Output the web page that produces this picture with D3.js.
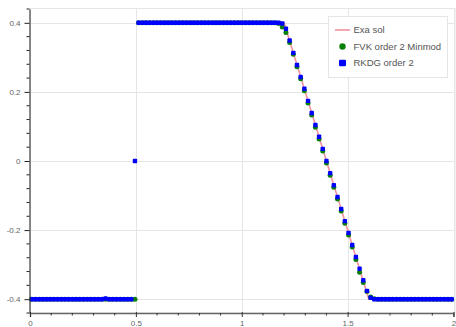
<!DOCTYPE html>
<html><head><meta charset="utf-8">
<script src="https://cdn.jsdelivr.net/npm/d3@7"></script>
<style>body{margin:0;background:#fff}svg{display:block}text{font-family:"Liberation Sans",Arial,Helvetica,sans-serif}</style>
</head><body>
<svg id="c" width="456" height="327"></svg>
<script>
// cell centres (x) shared by both numerical schemes
const cellX = [0.0087,0.0261,0.0435,0.0609,0.0783,0.0957,0.1130,0.1304,0.1478,0.1652,
0.1826,0.2000,0.2174,0.2348,0.2522,0.2696,0.2870,0.3043,0.3217,0.3391,
0.3565,0.3739,0.3913,0.4087,0.4261,0.4435,0.4609,0.4783,0.4957,0.5130,
0.5304,0.5478,0.5652,0.5826,0.6000,0.6174,0.6348,0.6522,0.6696,0.6870,
0.7043,0.7217,0.7391,0.7565,0.7739,0.7913,0.8087,0.8261,0.8435,0.8609,
0.8783,0.8957,0.9130,0.9304,0.9478,0.9652,0.9826,1.0000,1.0174,1.0348,
1.0522,1.0696,1.0870,1.1043,1.1217,1.1391,1.1565,1.1739,1.1913,1.2087,
1.2261,1.2435,1.2609,1.2783,1.2957,1.3130,1.3304,1.3478,1.3652,1.3826,
1.4000,1.4174,1.4348,1.4522,1.4696,1.4870,1.5043,1.5217,1.5391,1.5565,
1.5739,1.5913,1.6087,1.6261,1.6435,1.6609,1.6783,1.6957,1.7130,1.7304,
1.7478,1.7652,1.7826,1.8000,1.8174,1.8348,1.8522,1.8696,1.8870,1.9043,
1.9217,1.9391,1.9565,1.9739,1.9913];

const rkdgY = [-0.4,-0.4,-0.4,-0.4,-0.4,-0.4,-0.4,-0.4,-0.4,-0.4,
-0.4,-0.4,-0.4,-0.4,-0.4,-0.4,-0.4,-0.4,-0.4,-0.4,
-0.398,-0.4,-0.4,-0.4,-0.4,-0.4,-0.4,-0.4,0.0,0.4,
0.4,0.4,0.4,0.4,0.4,0.4,0.4,0.4,0.4,0.4,
0.4,0.4,0.4,0.4,0.4,0.4,0.4,0.4,0.4,0.4,
0.4,0.4,0.4,0.4,0.4,0.4,0.4,0.4,0.4,0.4,
0.4,0.4,0.4,0.4,0.4,0.4,0.4,0.4,0.398,0.383,
0.349,0.313,0.278,0.243,0.209,0.174,0.139,0.104,0.070,0.035,
0.000,-0.035,-0.070,-0.104,-0.139,-0.174,-0.208,-0.243,-0.278,-0.312,
-0.345,-0.376,-0.396,-0.400,-0.4,-0.4,-0.4,-0.4,-0.4,-0.4,
-0.4,-0.4,-0.4,-0.4,-0.4,-0.4,-0.4,-0.4,-0.4,-0.4,
-0.4,-0.4,-0.4,-0.4,-0.4];

const fvkY = [-0.4,-0.4,-0.4,-0.4,-0.4,-0.4,-0.4,-0.4,-0.4,-0.4,
-0.4,-0.4,-0.4,-0.4,-0.4,-0.4,-0.4,-0.4,-0.4,-0.4,
-0.4,-0.4,-0.4,-0.4,-0.4,-0.4,-0.4,-0.4,-0.4,0.4,
0.4,0.4,0.4,0.4,0.4,0.4,0.4,0.4,0.4,0.4,
0.4,0.4,0.4,0.4,0.4,0.4,0.4,0.4,0.4,0.4,
0.4,0.4,0.4,0.4,0.4,0.4,0.4,0.4,0.4,0.4,
0.4,0.4,0.4,0.4,0.4,0.4,0.4,0.398,0.388,0.372,
0.343,0.309,0.273,0.238,0.203,0.168,0.133,0.098,0.064,0.029,
-0.006,-0.041,-0.076,-0.110,-0.145,-0.180,-0.214,-0.249,-0.285,-0.322,
-0.352,-0.378,-0.394,-0.399,-0.4,-0.4,-0.4,-0.4,-0.4,-0.4,
-0.4,-0.4,-0.4,-0.4,-0.4,-0.4,-0.4,-0.4,-0.4,-0.4,
-0.4,-0.4,-0.4,-0.4,-0.4];

// exact solution breakpoints (NaN = gap at the jump)
const exactX = [0, 0.5, 0.5, 0.5, 1.2, 1.6, 2];
const exactY = [-0.4, -0.4, NaN, 0.4, 0.4, -0.4, -0.4];

const xTicks = [0, 0.5, 1, 1.5, 2];
const xTickLabels = ["0", "0.5", "1", "1.5", "2"];
const yTicks = [-0.4, -0.2, 0, 0.2, 0.4];
const yTickLabels = ["-0.4", "-0.2", "0", "0.2", "0.4"];
const legendNames = ["Exa sol", "FVK order 2 Minmod", "RKDG order 2"];

(function () {
const svg = d3.select("#c");
const x = d3.scaleLinear().domain([0, 2]).range([30, 453.5]);
const y = d3.scaleLinear().domain([-0.44, 0.44]).range([313, 9]);
const pL = 30, pR = 455, pT = 8.5, pB = 313;

// outline
svg.append("rect").attr("x", pL).attr("y", pT).attr("width", pR - pL).attr("height", pB - pT)
  .attr("fill", "none").attr("stroke", "#e5e5e5").attr("stroke-width", 1);

// grid
svg.append("g").selectAll("line").data(xTicks).join("line")
  .attr("x1", d => Math.round(x(d)) + 0.5).attr("x2", d => Math.round(x(d)) + 0.5)
  .attr("y1", pT).attr("y2", pB).attr("stroke", "#e5e5e5");
svg.append("g").selectAll("line").data(yTicks).join("line")
  .attr("y1", d => Math.round(y(d)) + 0.5).attr("y2", d => Math.round(y(d)) + 0.5)
  .attr("x1", pL).attr("x2", pR).attr("stroke", "#e5e5e5");

// exact line
const exact = exactX.map((v, i) => [v, exactY[i]]);
svg.append("path").datum(exact)
  .attr("d", d3.line().defined(d => !isNaN(d[1])).x(d => x(d[0])).y(d => y(d[1])))
  .attr("fill", "none").attr("stroke", "#f3929f").attr("stroke-width", 1.6);

// FVK circles
const fvk = cellX.map((v, i) => [v, fvkY[i]]);
svg.append("g").selectAll("circle").data(fvk).join("circle")
  .attr("cx", d => x(d[0])).attr("cy", d => y(d[1])).attr("r", 2.5)
  .attr("fill", "#0a800a");

// RKDG squares
const rk = cellX.map((v, i) => [v, rkdgY[i]]);
const s = 4.4;
svg.append("g").selectAll("rect").data(rk).join("rect")
  .attr("x", d => x(d[0]) - s / 2).attr("y", d => y(d[1]) - s / 2)
  .attr("width", s).attr("height", s).attr("rx", 0.9).attr("fill", "#0000ff");

// axes
const xAxis = d3.axisBottom(x).tickValues(xTicks).tickFormat((d, i) => xTickLabels[i]).tickSize(4).tickPadding(3);
const gx = svg.append("g").attr("transform", `translate(0,${pB})`).call(xAxis);
gx.select(".domain").attr("stroke", "#666").attr("stroke-width", 1.4);
gx.selectAll(".tick line").attr("stroke", "#333").attr("y1", -1);
gx.selectAll(".tick text").attr("font-size", 8).attr("fill", "#666").attr("font-family", "Liberation Sans, Arial, sans-serif");
const xMinor = d3.range(0, 21).map(i => i / 10).filter(v => !xTicks.includes(v));
svg.append("g").selectAll("line").data(xMinor).join("line")
  .attr("x1", d => x(d)).attr("x2", d => x(d)).attr("y1", pB).attr("y2", pB + 2.5)
  .attr("stroke", "#333");

const yAxis = d3.axisLeft(y).tickValues(yTicks).tickFormat((d, i) => yTickLabels[i]).tickSize(5).tickPadding(4).tickSizeOuter(0);
const gy = svg.append("g").attr("transform", `translate(${pL - 0.5},0)`).call(yAxis);
gy.select(".domain").attr("stroke", "#222");
gy.selectAll(".tick line").attr("stroke", "#222");
gy.selectAll(".tick text").attr("font-size", 8).attr("fill", "#666").attr("font-family", "Liberation Sans, Arial, sans-serif");
const yMinor = d3.range(-11, 12).map(i => i * 0.04).filter(v => !yTicks.some(t => Math.abs(t - v) < 1e-9));
svg.append("g").selectAll("line").data(yMinor).join("line")
  .attr("y1", d => y(d)).attr("y2", d => y(d)).attr("x1", pL - 0.5).attr("x2", pL - 3.5)
  .attr("stroke", "#222");

// legend
const lg = svg.append("g");
lg.append("rect").attr("x", 328.5).attr("y", 16.5).attr("width", 119).attr("height", 61)
  .attr("fill", "#fff").attr("stroke", "#e5e5e5");
const ly = [30, 46.5, 63];
lg.append("line").attr("x1", 335).attr("x2", 350).attr("y1", ly[0]).attr("y2", ly[0])
  .attr("stroke", "#f3929f").attr("stroke-width", 1.6);
lg.append("circle").attr("cx", 342.5).attr("cy", ly[1]).attr("r", 3.2).attr("fill", "#0a800a");
lg.append("rect").attr("x", 339).attr("y", ly[2] - 3.3).attr("width", 7).attr("height", 6.6).attr("rx", 1.2).attr("fill", "#0000ff");
lg.selectAll("text").data(legendNames).join("text")
  .attr("x", 353.5).attr("y", (d, i) => ly[i] + 3.4)
  .attr("font-size", 9.5).attr("fill", "#555").text(d => d);
})();
</script>
</body></html>
